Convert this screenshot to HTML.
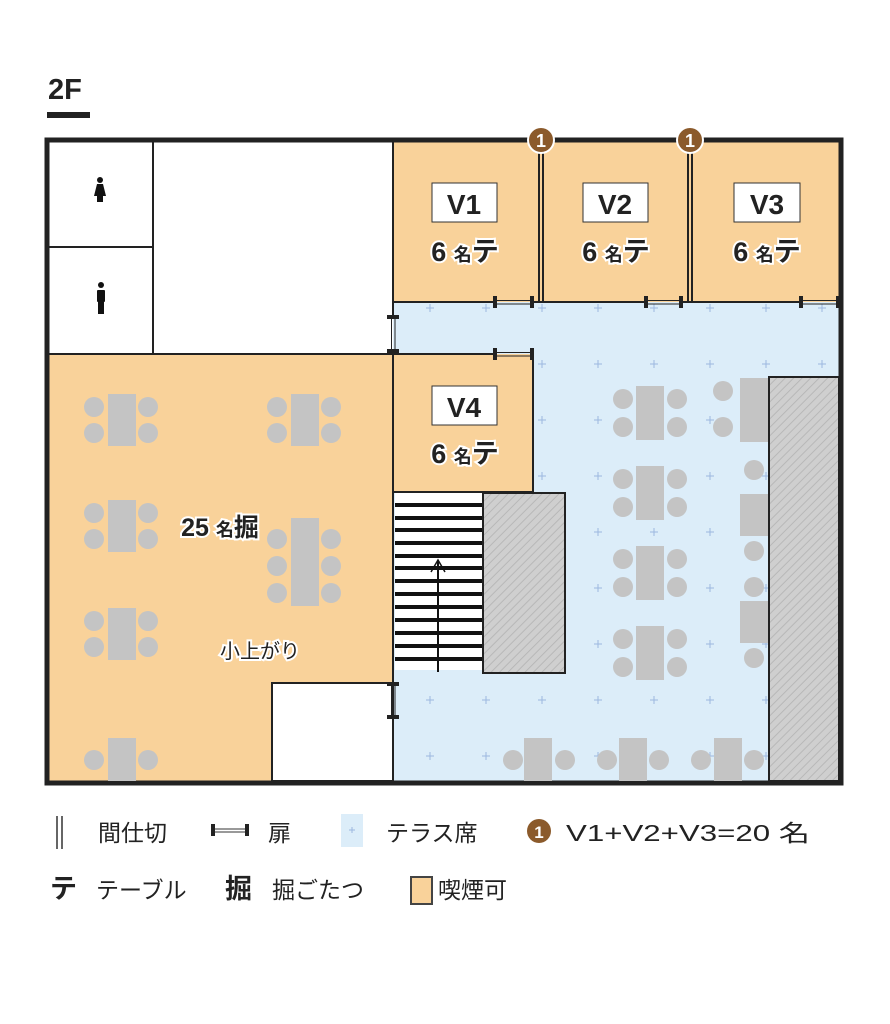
<!DOCTYPE html>
<html><head><meta charset="utf-8"><style>
body{margin:0;background:#fff;}
svg{display:block;font-family:"Liberation Sans","Noto Sans CJK JP",sans-serif;}
</style></head><body>
<svg width="890" height="1024" viewBox="0 0 890 1024" xmlns="http://www.w3.org/2000/svg">
<defs>
<pattern id="hatch" width="6" height="6" patternUnits="userSpaceOnUse" patternTransform="rotate(45)">
<rect width="6" height="6" fill="#cfcfcf"/><line x1="0" y1="0" x2="0" y2="6" stroke="#b8b8b8" stroke-width="2"/>
</pattern>
<pattern id="plus" width="56" height="56" patternUnits="userSpaceOnUse" x="10" y="0">
<rect width="56" height="56" fill="#dcedf9"/>
<path d="M28 24v8M24 28h8" stroke="#9cb8e0" stroke-width="1"/>
</pattern>
</defs>
<text x="48" y="99" font-size="29" font-weight="bold" fill="#222">2F</text>
<rect x="47" y="112" width="43" height="6" fill="#222"/>

<rect x="47" y="140" width="794" height="643" fill="#fff"/>
<rect x="393" y="302" width="446" height="479" fill="url(#plus)"/>
<rect x="393" y="142" width="446" height="160" fill="#f9d29a"/>
<rect x="49" y="354" width="344" height="427" fill="#f9d29a"/>
<rect x="272" y="683" width="121" height="98" fill="#fff" stroke="#222" stroke-width="2"/>
<rect x="393" y="354" width="140" height="138" fill="#f9d29a"/>
<rect x="395" y="493" width="88" height="177" fill="#fff"/>
<g stroke="#111" stroke-width="4">
<line x1="395" y1="505" x2="483" y2="505"/><line x1="395" y1="518" x2="483" y2="518"/><line x1="395" y1="530" x2="483" y2="530"/><line x1="395" y1="543" x2="483" y2="543"/><line x1="395" y1="556" x2="483" y2="556"/><line x1="395" y1="568" x2="483" y2="568"/><line x1="395" y1="581" x2="483" y2="581"/><line x1="395" y1="594" x2="483" y2="594"/><line x1="395" y1="607" x2="483" y2="607"/><line x1="395" y1="620" x2="483" y2="620"/><line x1="395" y1="633" x2="483" y2="633"/><line x1="395" y1="646" x2="483" y2="646"/><line x1="395" y1="659" x2="483" y2="659"/>
</g>
<line x1="438" y1="672" x2="438" y2="560" stroke="#111" stroke-width="2"/>
<path d="M431 572 L438 560 L445 572" fill="none" stroke="#111" stroke-width="1.5"/>
<rect x="483" y="493" width="82" height="180" fill="url(#hatch)" stroke="#222" stroke-width="2"/>
<rect x="769" y="377" width="70" height="404" fill="url(#hatch)" stroke="#222" stroke-width="2"/>

<g stroke="#222" stroke-width="2" fill="none">
<line x1="153" y1="142" x2="153" y2="354"/>
<line x1="49" y1="247" x2="153" y2="247"/>
<line x1="49" y1="354" x2="393" y2="354"/>
<line x1="393" y1="142" x2="393" y2="316"/>
<line x1="393" y1="352" x2="393" y2="683"/>
<line x1="393" y1="718" x2="393" y2="781"/>
<line x1="393" y1="302" x2="494" y2="302"/>
<line x1="533" y1="302" x2="645" y2="302"/>
<line x1="682" y1="302" x2="800" y2="302"/>
<line x1="393" y1="354" x2="494" y2="354"/>
<line x1="533" y1="350" x2="533" y2="492"/>
<line x1="393" y1="492" x2="533" y2="492"/>
<line x1="539" y1="150" x2="539" y2="302"/><line x1="543" y1="150" x2="543" y2="302"/>
<line x1="688" y1="150" x2="688" y2="302"/><line x1="692" y1="150" x2="692" y2="302"/>
</g>
<g stroke="#222" fill="none">
<path d="M494 300.5H533M494 304H533" stroke-width="1"/><path d="M495 296v12M532 296v12" stroke-width="4"/>
<path d="M645 300.5H682M645 304H682" stroke-width="1"/><path d="M646 296v12M681 296v12" stroke-width="4"/>
<path d="M800 300.5H839M800 304H839" stroke-width="1"/><path d="M801 296v12M838 296v12" stroke-width="4"/>
<path d="M494 352.5H533M494 356H533" stroke-width="1"/><path d="M495 348v12M532 348v12" stroke-width="4"/>
<path d="M391.5 316V352M395 316V352" stroke-width="1"/><path d="M387 317h12M387 351h12" stroke-width="4"/>
<path d="M391.5 683V718M395 683V718" stroke-width="1"/><path d="M387 684h12M387 717h12" stroke-width="4"/>
</g>
<rect x="47" y="140" width="794" height="643" fill="none" stroke="#222" stroke-width="5"/>

<g fill="#c4c4c4">
<rect x="108" y="394" width="28" height="52"/><circle cx="94" cy="407" r="10"/><circle cx="94" cy="433" r="10"/><circle cx="148" cy="407" r="10"/><circle cx="148" cy="433" r="10"/>
<rect x="108" y="500" width="28" height="52"/><circle cx="94" cy="513" r="10"/><circle cx="94" cy="539" r="10"/><circle cx="148" cy="513" r="10"/><circle cx="148" cy="539" r="10"/>
<rect x="108" y="608" width="28" height="52"/><circle cx="94" cy="621" r="10"/><circle cx="94" cy="647" r="10"/><circle cx="148" cy="621" r="10"/><circle cx="148" cy="647" r="10"/>
<rect x="108" y="738" width="28" height="43"/><circle cx="94" cy="760" r="10"/><circle cx="148" cy="760" r="10"/>
<rect x="291" y="394" width="28" height="52"/><circle cx="277" cy="407" r="10"/><circle cx="277" cy="433" r="10"/><circle cx="331" cy="407" r="10"/><circle cx="331" cy="433" r="10"/>
<rect x="291" y="518" width="28" height="88"/><circle cx="277" cy="539" r="10"/><circle cx="277" cy="566" r="10"/><circle cx="277" cy="593" r="10"/><circle cx="331" cy="539" r="10"/><circle cx="331" cy="566" r="10"/><circle cx="331" cy="593" r="10"/>
<rect x="636" y="386" width="28" height="54"/><circle cx="623" cy="399" r="10"/><circle cx="623" cy="427" r="10"/><circle cx="677" cy="399" r="10"/><circle cx="677" cy="427" r="10"/>
<rect x="636" y="466" width="28" height="54"/><circle cx="623" cy="479" r="10"/><circle cx="623" cy="507" r="10"/><circle cx="677" cy="479" r="10"/><circle cx="677" cy="507" r="10"/>
<rect x="636" y="546" width="28" height="54"/><circle cx="623" cy="559" r="10"/><circle cx="623" cy="587" r="10"/><circle cx="677" cy="559" r="10"/><circle cx="677" cy="587" r="10"/>
<rect x="636" y="626" width="28" height="54"/><circle cx="623" cy="639" r="10"/><circle cx="623" cy="667" r="10"/><circle cx="677" cy="639" r="10"/><circle cx="677" cy="667" r="10"/>
<rect x="740" y="378" width="28" height="64"/><circle cx="723" cy="391" r="10"/><circle cx="723" cy="427" r="10"/>
<circle cx="754" cy="470" r="10"/><rect x="740" y="494" width="28" height="42"/><circle cx="754" cy="551" r="10"/>
<circle cx="754" cy="587" r="10"/><rect x="740" y="601" width="28" height="42"/><circle cx="754" cy="658" r="10"/>
<rect x="524" y="738" width="28" height="43"/><circle cx="513" cy="760" r="10"/><circle cx="565" cy="760" r="10"/>
<rect x="619" y="738" width="28" height="43"/><circle cx="607" cy="760" r="10"/><circle cx="659" cy="760" r="10"/>
<rect x="714" y="738" width="28" height="43"/><circle cx="701" cy="760" r="10"/><circle cx="754" cy="760" r="10"/>
</g>

<g fill="#111">
<circle cx="100" cy="180" r="3"/><path d="M97 184h6l3 12h-3v6h-6v-6h-3z"/>
<circle cx="101" cy="285" r="3"/><rect x="97" y="290" width="8" height="12" rx="1"/><rect x="98" y="301" width="6" height="13"/>
</g>

<g>
<circle cx="541" cy="140" r="13" fill="#8b5a2b" stroke="#fff" stroke-width="2"/><text x="541" y="147" font-size="18" font-weight="bold" fill="#fff" text-anchor="middle">1</text>
<circle cx="690" cy="140" r="13" fill="#8b5a2b" stroke="#fff" stroke-width="2"/><text x="690" y="147" font-size="18" font-weight="bold" fill="#fff" text-anchor="middle">1</text>
</g>

<g font-weight="bold" fill="#222" text-anchor="middle">
<rect x="432" y="183" width="65" height="39" fill="#fff" stroke="#333"/><text x="464" y="214" font-size="28">V1</text>
<rect x="583" y="183" width="65" height="39" fill="#fff" stroke="#333"/><text x="615" y="214" font-size="28">V2</text>
<rect x="734" y="183" width="66" height="39" fill="#fff" stroke="#333"/><text x="767" y="214" font-size="28">V3</text>
<rect x="432" y="386" width="65" height="39" fill="#fff" stroke="#333"/><text x="464" y="417" font-size="28">V4</text>
</g>
<g font-weight="bold" fill="#222" stroke="#fff" stroke-width="4" paint-order="stroke" text-anchor="middle">
<text x="465" y="261" font-size="27">6 <tspan font-size="18">名</tspan>テ</text>
<text x="616" y="261" font-size="27">6 <tspan font-size="18">名</tspan>テ</text>
<text x="767" y="261" font-size="27">6 <tspan font-size="18">名</tspan>テ</text>
<text x="465" y="463" font-size="27">6 <tspan font-size="18">名</tspan>テ</text>
<text x="220" y="536" font-size="25">25 <tspan font-size="18">名</tspan>掘</text>
<text x="260" y="658" font-size="20" font-weight="normal">小上がり</text>
</g>

<g fill="#222" font-size="23">
<path d="M57 816v33M62 816v33" stroke="#333" stroke-width="1.5"/>
<text x="98" y="841">間仕切</text>
<path d="M212 832h36M212 829h36" stroke="#333" stroke-width="1"/><path d="M213 824v12M247 824v12" stroke="#222" stroke-width="4"/>
<text x="268" y="841">扉</text>
<rect x="341" y="814" width="22" height="33" fill="#dcedf9"/><path d="M352 827v6M349 830h6" stroke="#9cb8e0"/>
<text x="386" y="841">テラス席</text>
<circle cx="539" cy="831" r="12" fill="#8b5a2b"/><text x="539" y="838" font-size="17" font-weight="bold" fill="#fff" text-anchor="middle">1</text>
<text x="566" y="841" textLength="244" lengthAdjust="spacingAndGlyphs">V1+V2+V3=20 名</text>
<text x="50" y="898" font-weight="bold" font-size="27">テ</text>
<text x="96" y="898">テーブル</text>
<text x="225" y="898" font-weight="bold" font-size="27">掘</text>
<text x="272" y="898">掘ごたつ</text>
<rect x="411" y="877" width="21" height="27" fill="#f9d29a" stroke="#444" stroke-width="2"/>
<text x="438" y="898">喫煙可</text>
</g>
</svg>
</body></html>
